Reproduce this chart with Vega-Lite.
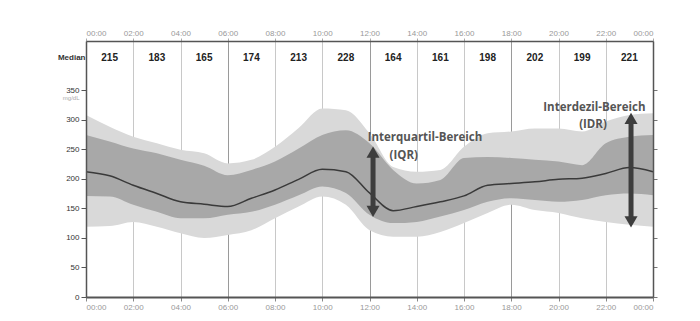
{
  "$schema": "https://vega.github.io/schema/vega-lite/v6.json",
  "width": 567,
  "height": 256,
  "autosize": "none",
  "padding": {"left": 86, "top": 41, "right": 47, "bottom": 24},
  "background": "white",
  "config": {"view": {"stroke": null}, "font": "Liberation Sans"},
  "datasets": {
    "pct": [
      {"h": 0, "p10": 119, "p25": 171, "p50": 212, "p75": 274, "p90": 308},
      {"h": 1, "p10": 120, "p25": 170, "p50": 205, "p75": 263, "p90": 288},
      {"h": 2, "p10": 127, "p25": 156, "p50": 189, "p75": 251, "p90": 271},
      {"h": 3, "p10": 119, "p25": 144, "p50": 175, "p75": 243, "p90": 260},
      {"h": 4, "p10": 108, "p25": 133, "p50": 161, "p75": 232, "p90": 249},
      {"h": 5, "p10": 100, "p25": 133, "p50": 157, "p75": 222, "p90": 243},
      {"h": 6, "p10": 105, "p25": 139, "p50": 153, "p75": 206, "p90": 226},
      {"h": 7, "p10": 113, "p25": 144, "p50": 167, "p75": 215, "p90": 232},
      {"h": 8, "p10": 133, "p25": 156, "p50": 181, "p75": 229, "p90": 254},
      {"h": 9, "p10": 153, "p25": 172, "p50": 199, "p75": 251, "p90": 286},
      {"h": 10, "p10": 170, "p25": 187, "p50": 216, "p75": 274, "p90": 319},
      {"h": 11, "p10": 156, "p25": 176, "p50": 212, "p75": 282, "p90": 316},
      {"h": 12, "p10": 113, "p25": 139, "p50": 176, "p75": 260, "p90": 277},
      {"h": 13, "p10": 102, "p25": 125, "p50": 146, "p75": 215, "p90": 220},
      {"h": 14, "p10": 102, "p25": 127, "p50": 153, "p75": 192, "p90": 212},
      {"h": 15, "p10": 110, "p25": 136, "p50": 161, "p75": 198, "p90": 215},
      {"h": 16, "p10": 125, "p25": 147, "p50": 171, "p75": 235, "p90": 254},
      {"h": 17, "p10": 142, "p25": 161, "p50": 189, "p75": 237, "p90": 277},
      {"h": 18, "p10": 156, "p25": 167, "p50": 192, "p75": 235, "p90": 280},
      {"h": 19, "p10": 147, "p25": 164, "p50": 195, "p75": 232, "p90": 285},
      {"h": 20, "p10": 142, "p25": 161, "p50": 199, "p75": 229, "p90": 285},
      {"h": 21, "p10": 133, "p25": 164, "p50": 201, "p75": 223, "p90": 280},
      {"h": 22, "p10": 127, "p25": 172, "p50": 209, "p75": 260, "p90": 297},
      {"h": 23, "p10": 122, "p25": 175, "p50": 219, "p75": 271, "p90": 308},
      {"h": 24, "p10": 119, "p25": 172, "p50": 212, "p75": 274, "p90": 311}
    ],
    "med": [
      {"h": 1, "v": 215}, {"h": 3, "v": 183}, {"h": 5, "v": 165}, {"h": 7, "v": 174},
      {"h": 9, "v": 213}, {"h": 11, "v": 228}, {"h": 13, "v": 164}, {"h": 15, "v": 161},
      {"h": 17, "v": 198}, {"h": 19, "v": 202}, {"h": 21, "v": 199}, {"h": 23, "v": 221}
    ],
    "notes": [
      {"h": 14.35, "v": 269, "t": "Interquartil-Bereich"},
      {"h": 13.45, "v": 238, "t": "(IQR)"},
      {"h": 21.52, "v": 320, "t": "Interdezil-Bereich"},
      {"h": 21.46, "v": 291, "t": "(IDR)"}
    ],
    "arrows": [
      {"h": 12.15, "top": 245, "bottom": 145},
      {"h": 23.07, "top": 302, "bottom": 127}
    ]
  },
  "layer": [
    {
      "data": {"name": "pct"},
      "mark": {"type": "area", "color": "#d9d9d9", "interpolate": "monotone"},
      "encoding": {
        "x": {
          "field": "h", "type": "quantitative",
          "scale": {"domain": [0, 24], "nice": false, "zero": false},
          "axis": {
            "orient": "bottom", "values": [0, 2, 4, 6, 8, 10, 12, 14, 16, 18, 20, 22, 24],
            "labelExpr": "(datum.value % 24 < 10 ? '0' : '') + (datum.value % 24) + ':00'",
            "title": null, "grid": true,
            "gridColor": {"condition": {"test": "datum.value % 6 == 0", "value": "#9a9a9a"}, "value": "#c8c8c8"},
            "gridWidth": 1, "domainColor": "#555", "domainWidth": 2,
            "tickColor": "#888", "tickSize": 4, "labelColor": "#999", "labelFontSize": 8,
            "labelPadding": 2, "zindex": 0
          }
        },
        "y": {
          "field": "p90", "type": "quantitative",
          "scale": {"domain": [0, 433], "nice": false},
          "axis": {
            "orient": "left", "values": [0, 50, 100, 150, 200, 250, 300, 350, 338, 405],
            "labelExpr": "datum.value == 405 ? 'Median' : datum.value == 338 ? 'mg/dL' : datum.label",
            "title": null, "grid": false, "labelOverlap": false,
            "domainColor": "#555", "domainWidth": 1.5, "tickColor": "#555", "tickSize": 5,
            "tickOpacity": {"condition": {"test": "datum.value == 338 || datum.value == 405", "value": 0}, "value": 1},
            "labelColor": {"condition": {"test": "datum.value == 338", "value": "#aaa"}, "value": "#333"},
            "labelFontSize": {"condition": {"test": "datum.value == 338", "value": 6}, "value": 8},
            "labelFontWeight": {"condition": {"test": "datum.value == 405", "value": "bold"}, "value": "normal"},
            "labelPadding": {"condition": {"test": "datum.value == 405", "value": -4}, "value": 2},
            "zindex": 1
          }
        },
        "y2": {"field": "p10"}
      }
    },
    {
      "data": {"name": "pct"},
      "mark": {"type": "area", "color": "#a8a8a8", "interpolate": "monotone"},
      "encoding": {
        "x": {"field": "h", "type": "quantitative", "axis": null},
        "y": {"field": "p75", "type": "quantitative", "axis": null},
        "y2": {"field": "p25"}
      }
    },
    {
      "data": {"name": "pct"},
      "mark": {"type": "line", "color": "#3a3a3a", "strokeWidth": 1.5, "interpolate": "monotone"},
      "encoding": {
        "x": {"field": "h", "type": "quantitative", "axis": null},
        "y": {"field": "p50", "type": "quantitative", "axis": null}
      }
    },
    {
      "mark": {"type": "rule", "color": "#555", "strokeWidth": 1.2},
      "encoding": {
        "x": {
          "datum": 0, "type": "quantitative",
          "axis": {
            "orient": "top", "values": [0, 2, 4, 6, 8, 10, 12, 14, 16, 18, 20, 22, 24],
            "labelExpr": "(datum.value % 24 < 10 ? '0' : '') + (datum.value % 24) + ':00'",
            "title": null, "grid": false, "domainColor": "#555", "domainWidth": 1.5,
            "tickColor": "#aaa", "tickSize": 3, "labelColor": "#999", "labelFontSize": 8, "labelPadding": 1,
            "zindex": 1
          }
        },
        "x2": {"datum": 24},
        "y": {
          "datum": 377, "type": "quantitative",
          "axis": {
            "orient": "right", "values": [0, 50, 100, 150, 200, 250, 300, 350],
            "labels": false, "title": null, "grid": false,
            "domainColor": "#555", "domainWidth": 1.5, "tickColor": "#777", "tickSize": 4,
            "zindex": 1
          }
        }
      }
    },
    {
      "data": {"name": "med"},
      "mark": {"type": "text", "font": "Liberation Sans", "fontWeight": "bold", "fontSize": 10, "color": "#222"},
      "encoding": {
        "x": {"field": "h", "type": "quantitative", "axis": null},
        "y": {"datum": 405, "type": "quantitative", "axis": null},
        "text": {"field": "v"}
      }
    },
    {
      "mark": {"type": "rule", "color": "#666", "strokeWidth": 1},
      "encoding": {
        "x": {"datum": 10.33, "type": "quantitative", "axis": null},
        "y": {"datum": 289, "type": "quantitative", "axis": null},
        "y2": {"datum": 216}
      }
    },
    {
      "mark": {"type": "text", "font": "Liberation Sans", "fontSize": 6, "color": "#555", "text": "Medianwert"},
      "encoding": {
        "x": {"datum": 10.79, "type": "quantitative", "axis": null},
        "y": {"datum": 294, "type": "quantitative", "axis": null}
      }
    },
    {
      "data": {"name": "notes"},
      "mark": {"type": "text", "font": "Open Sans", "fontWeight": "bold", "fontSize": 11.5, "color": "#555"},
      "encoding": {
        "x": {"field": "h", "type": "quantitative", "axis": null},
        "y": {"field": "v", "type": "quantitative", "axis": null},
        "text": {"field": "t"}
      }
    },
    {
      "data": {"name": "arrows"},
      "mark": {"type": "rule", "color": "#3d3d3d", "strokeWidth": 5},
      "encoding": {
        "x": {"field": "h", "type": "quantitative", "axis": null},
        "y": {"field": "bottom", "type": "quantitative", "axis": null},
        "y2": {"field": "top"}
      }
    },
    {
      "data": {"name": "arrows"},
      "mark": {"type": "point", "shape": "triangle-up", "filled": true, "color": "#3d3d3d", "size": 170, "opacity": 1},
      "encoding": {
        "x": {"field": "h", "type": "quantitative", "axis": null},
        "y": {"field": "top", "type": "quantitative", "axis": null}
      }
    },
    {
      "data": {"name": "arrows"},
      "mark": {"type": "point", "shape": "triangle-down", "filled": true, "color": "#3d3d3d", "size": 170, "opacity": 1},
      "encoding": {
        "x": {"field": "h", "type": "quantitative", "axis": null},
        "y": {"field": "bottom", "type": "quantitative", "axis": null}
      }
    }
  ],
  "resolve": {"axis": {"x": "independent", "y": "independent"}}
}
